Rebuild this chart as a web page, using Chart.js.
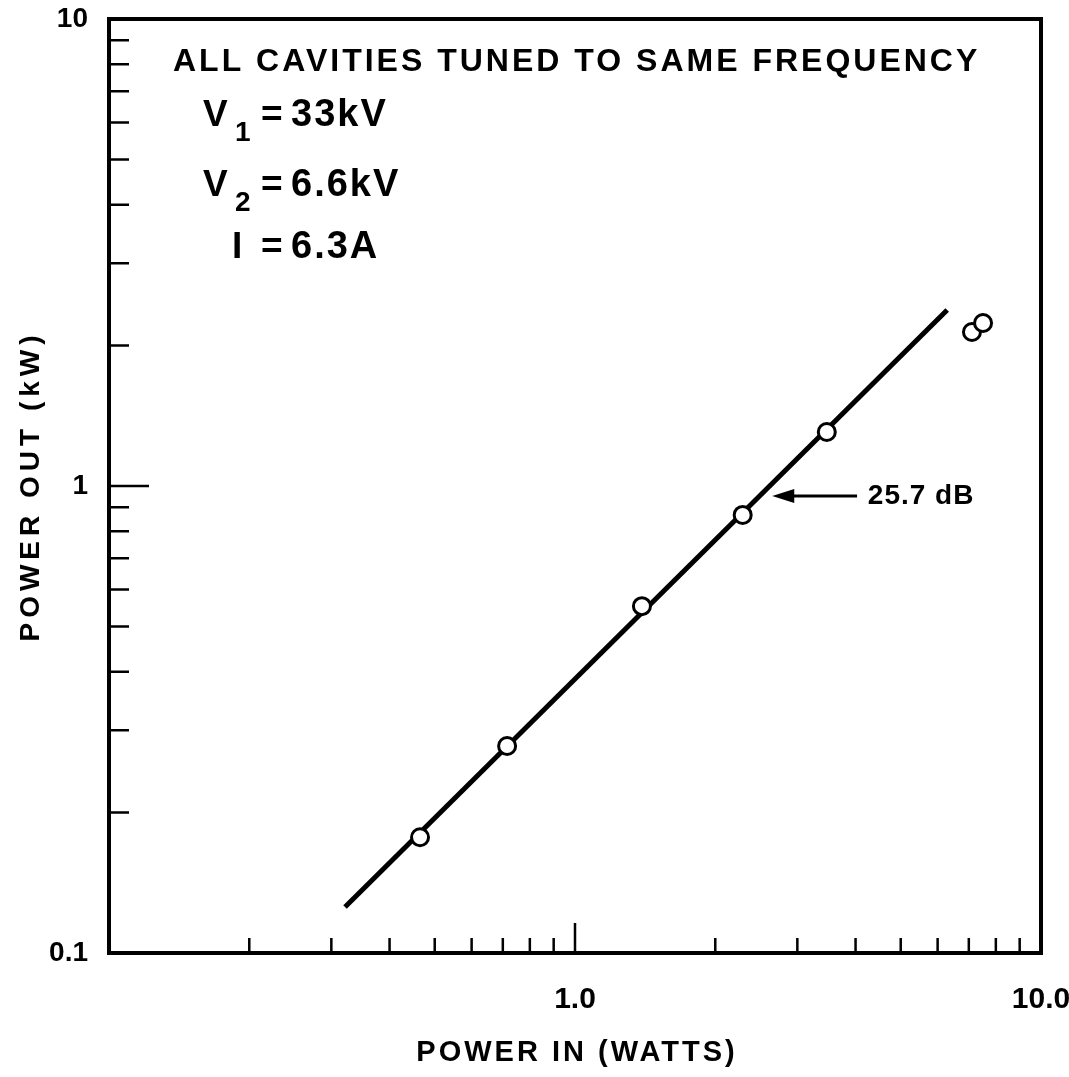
<!DOCTYPE html>
<html>
<head>
<meta charset="utf-8">
<script src="https://cdn.jsdelivr.net/npm/chart.js@4/dist/chart.umd.min.js"></script>
<style>
  html, body { margin: 0; padding: 0; background: #fff; }
  #wrap { width: 1069px; height: 1077px; }
</style>
</head>
<body>
<div id="wrap"><canvas id="chart"></canvas></div>
<script>
// measured points (power in W, power out kW)
const powerIn = [0.465, 0.715, 1.392, 2.29, 3.47, 7.11, 7.51];
const powerOut = [0.177, 0.2775, 0.553, 0.867, 1.305, 2.137, 2.234];

// fitted straight line (25.7 dB gain)
const fitIn = [0.321, 6.29];
const fitOut = [0.1255, 2.381];

// axis ticks
const xMinorTicks = [0.2, 0.3, 0.4, 0.5, 0.6, 0.7, 0.8, 0.9, 2, 3, 4, 5, 6, 7, 8, 9];
const xMajorTicks = [1];
const yMinorTicks = [0.2, 0.3, 0.4, 0.5, 0.6, 0.7, 0.8, 0.9, 2, 3, 4, 5, 6, 7, 8, 9];
const yMajorTicks = [1];
const xTickLabels = { 1: "1.0", 10: "10.0" };
const yTickLabels = { 0.1: "0.1", 1: "1", 10: "10" };

// gain arrow: tip, tail, label start, level
const gainLabel = "25.7 dB";
const arrowX = [2.65, 4.03];
const arrowLabelX = 4.25;
const arrowY = 0.952;

const FONT = "'Liberation Sans', Arial, sans-serif";

function toXY(xs, ys) {
  return xs.map((x, i) => ({ x: x, y: ys[i] }));
}

function drawText(ctx, txt, x, y, size, spacing, align) {
  ctx.font = `bold ${size}px ${FONT}`;
  ctx.letterSpacing = spacing + "px";
  ctx.textAlign = align || "left";
  ctx.textBaseline = "alphabetic";
  ctx.fillText(txt, x, y);
}

// one "V1 = 33kV" style line
function drawParam(ctx, main, sub, value, x, y) {
  drawText(ctx, main, x, y, 37, 0);
  if (sub) drawText(ctx, sub, x + 32, y + 15, 28, 0);
  drawText(ctx, "=", 261, y, 37, 0);
  drawText(ctx, value, 291, y, 38, 2);
}

// frame, inside ticks, titles and notes
const decorPlugin = {
  id: "decor",
  afterDraw(chart) {
    const ctx = chart.ctx;
    const area = chart.chartArea;
    const xs = chart.scales.x;
    const ys = chart.scales.y;
    ctx.save();
    ctx.strokeStyle = "#000";
    ctx.fillStyle = "#000";

    // frame
    ctx.lineWidth = 4;
    ctx.strokeRect(area.left, area.top, area.right - area.left, area.bottom - area.top);

    // ticks pointing into the plot
    ctx.lineWidth = 2.5;
    ctx.beginPath();
    xMinorTicks.forEach((v) => {
      const p = xs.getPixelForValue(v);
      ctx.moveTo(p, area.bottom);
      ctx.lineTo(p, area.bottom - 15);
    });
    xMajorTicks.forEach((v) => {
      const p = xs.getPixelForValue(v);
      ctx.moveTo(p, area.bottom);
      ctx.lineTo(p, area.bottom - 30);
    });
    yMinorTicks.forEach((v) => {
      const p = ys.getPixelForValue(v);
      ctx.moveTo(area.left, p);
      ctx.lineTo(area.left + 20, p);
    });
    yMajorTicks.forEach((v) => {
      const p = ys.getPixelForValue(v);
      ctx.moveTo(area.left, p);
      ctx.lineTo(area.left + 40, p);
    });
    ctx.stroke();

    // axis titles
    drawText(ctx, "POWER IN (WATTS)", (area.left + area.right) / 2 + 2, 1061, 29, 3, "center");
    ctx.save();
    ctx.translate(39, (area.top + area.bottom) / 2);
    ctx.rotate(-Math.PI / 2);
    drawText(ctx, "POWER OUT (kW)", 0, 0, 28, 5, "center");
    ctx.restore();

    // notes
    drawText(ctx, "ALL CAVITIES TUNED TO SAME FREQUENCY", 173, 71, 32, 3, "left");
    drawParam(ctx, "V", "1", "33kV", 203, 126);
    drawParam(ctx, "V", "2", "6.6kV", 203, 196);
    drawParam(ctx, "I", "", "6.3A", 232, 258);

    // gain arrow
    const ay = ys.getPixelForValue(arrowY);
    const tip = xs.getPixelForValue(arrowX[0]);
    const tail = xs.getPixelForValue(arrowX[1]);
    ctx.lineWidth = 3;
    ctx.beginPath();
    ctx.moveTo(tail, ay);
    ctx.lineTo(tip + 14, ay);
    ctx.stroke();
    ctx.beginPath();
    ctx.moveTo(tip, ay);
    ctx.lineTo(tip + 22, ay - 7);
    ctx.lineTo(tip + 22, ay + 7);
    ctx.closePath();
    ctx.fill();
    ctx.textBaseline = "middle";
    ctx.font = `bold 28px ${FONT}`;
    ctx.letterSpacing = "1px";
    ctx.textAlign = "left";
    ctx.fillText(gainLabel, xs.getPixelForValue(arrowLabelX), ay);

    ctx.restore();
  },
};

new Chart(document.getElementById("chart"), {
  type: "scatter",
  data: {
    datasets: [
      {
        label: "fit",
        data: toXY(fitIn, fitOut),
        showLine: true,
        borderColor: "#000",
        borderWidth: 5,
        pointRadius: 0,
        order: 2,
      },
      {
        label: "measured",
        data: toXY(powerIn, powerOut),
        pointRadius: 8.5,
        pointBorderWidth: 3,
        pointBackgroundColor: "#fff",
        pointBorderColor: "#000",
        order: 1,
      },
    ],
  },
  options: {
    responsive: true,
    maintainAspectRatio: false,
    animation: false,
    events: [],
    layout: { padding: { top: 19, right: 28, left: 0, bottom: 0 } },
    plugins: { legend: { display: false }, tooltip: { enabled: false } },
    scales: {
      x: {
        type: "logarithmic",
        min: 0.1,
        max: 10,
        grid: { display: false, drawTicks: false },
        border: { display: false },
        afterBuildTicks: (s) => { s.ticks = [{ value: 0.1 }, { value: 1 }, { value: 10 }]; },
        afterFit: (s) => {
          s.height = 124;
          s.paddingLeft = 0;
          s.paddingRight = 0;
        },
        ticks: {
          autoSkip: false,
          maxRotation: 0,
          padding: 29,
          color: "#000",
          font: { family: FONT, size: 30, weight: "bold" },
          callback: (v) => xTickLabels[v] || "",
        },
      },
      y: {
        type: "logarithmic",
        min: 0.1,
        max: 10,
        grid: { display: false, drawTicks: false },
        border: { display: false },
        afterBuildTicks: (s) => { s.ticks = [{ value: 0.1 }, { value: 1 }, { value: 10 }]; },
        afterFit: (s) => {
          s.width = 109;
          s.paddingTop = 0;
          s.paddingBottom = 0;
        },
        ticks: {
          autoSkip: false,
          padding: 21,
          color: "#000",
          font: { family: FONT, size: 28, weight: "bold" },
          callback: (v) => yTickLabels[v] || "",
        },
      },
    },
  },
  plugins: [decorPlugin],
});
</script>
</body>
</html>
